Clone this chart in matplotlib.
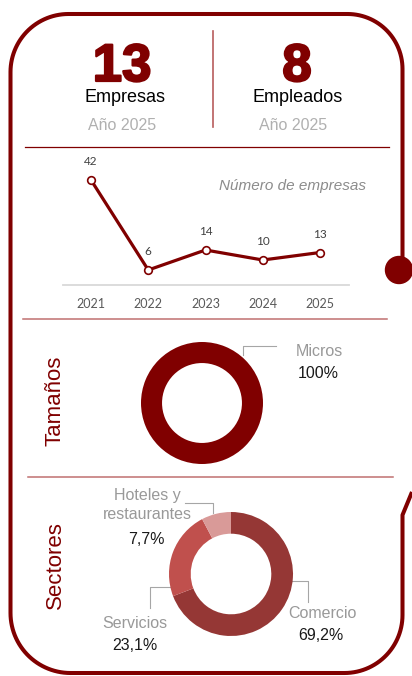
import numpy as np
import matplotlib.pyplot as plt
import matplotlib.patheffects as pe
from matplotlib.path import Path
from matplotlib.patches import PathPatch, Circle

plt.rcParams['font.family'] = ['Liberation Sans', 'DejaVu Sans']

# data
years = [2021, 2022, 2023, 2024, 2025]
n_empresas = [42, 6, 14, 10, 13]
total_empresas = 13
total_empleados = 8
anio = 2025
tam_labels = ['Micros']
tam_pct = [100.0]
sec_labels = ['Comercio', 'Servicios', 'Hoteles y\nrestaurantes']
sec_pct = [69.2, 23.1, 7.7]
sec_colors = ['#953735', '#C0504D', '#D99A98']

RED = '#800000'
LIGHT_RED = '#C07070'
GRAY = '#A6A6A6'
W, H = 412, 676

fig = plt.figure(figsize=(W / 100, H / 100), dpi=100)


def px_axes(x0, y0, x1, y1):
    return fig.add_axes([x0 / W, 1 - y1 / H, (x1 - x0) / W, (y1 - y0) / H])


bg = fig.add_axes([0, 0, 1, 1])
bg.set_xlim(0, W)
bg.set_ylim(H, 0)
bg.axis('off')


def arc(cx, cy, r, a0, a1, n=30):
    t = np.radians(np.linspace(a0, a1, n))
    return list(zip(cx + r * np.cos(t), cy - r * np.sin(t)))


# frame (pixel coords, y down)
L, T, R, B = 10.5, 14, 402.5, 673
pts = [(R, 258)]
pts += arc(R - 55, T + 55, 55, 0, 90)
pts += arc(L + 58, T + 58, 58, 90, 180)
pts += arc(L + 60, B - 60, 60, 180, 270)
pts += arc(R - 58, B - 58, 58, 270, 360)
pts += [(R, 515), (412, 492)]
bg.add_patch(PathPatch(Path(pts), fill=False, edgecolor=RED, lw=2.9,
                       capstyle='butt', joinstyle='round'))
bg.add_patch(Circle((399, 270), 13.5, color=RED))

# header
big = [pe.Stroke(linewidth=1.6, foreground=RED), pe.Normal()]
bg.text(122, 81, str(total_empresas), fontsize=38, fontweight='bold',
        color=RED, ha='center', va='baseline', path_effects=big)
bg.text(125, 102, 'Empresas', fontsize=13, ha='center', va='baseline')
bg.text(122, 130, f'Año {anio}', fontsize=11.5, color='#B0B0B0',
        ha='center', va='baseline')
bg.text(297, 81, str(total_empleados), fontsize=38, fontweight='bold',
        color=RED, ha='center', va='baseline', path_effects=big)
bg.text(298, 102, 'Empleados', fontsize=13, ha='center', va='baseline')
bg.text(293, 130, f'Año {anio}', fontsize=11.5, color='#B0B0B0',
        ha='center', va='baseline')
bg.plot([213, 213], [31, 127], color='#B85C5C', lw=1.2)

# separators
bg.plot([25, 389], [147, 147], color=RED, lw=0.9)
bg.plot([23, 387], [319, 319], color=LIGHT_RED, lw=1.1)
bg.plot([28, 393], [477, 477], color=LIGHT_RED, lw=1.1)

# line chart
ax = px_axes(63, 160, 349, 285)
ax.set_facecolor('none')
ax.plot(years, n_empresas, color=RED, lw=2.3, marker='o', ms=5.5,
        mfc='white', mec=RED, mew=1.2)
for x, y in zip(years, n_empresas):
    ax.annotate(str(y), (x, y), xytext=(0, 13), textcoords='offset points',
                ha='center', va='center', fontsize=8.5, color='#404040',
                family='Lato')
ax.set_xlim(2021 - 28 / 57.25, 2025 + 29 / 57.25)
ax.set_ylim(0, 50)
for s in ['top', 'right', 'left']:
    ax.spines[s].set_visible(False)
ax.spines['bottom'].set_color('#D9D9D9')
ax.spines['bottom'].set_linewidth(1.3)
ax.set_yticks([])
ax.set_xticks(years)
ax.tick_params(axis='x', length=0, pad=9, labelsize=9, labelcolor='#595959')
for lab in ax.get_xticklabels():
    lab.set_family('Lato')
bg.text(293, 186, 'Número de empresas', fontsize=11, style='italic',
        color='#8C8C8C', ha='center', va='center')

# Tamaños donut
bg.text(55, 401, 'Tamaños', fontsize=16, color=RED, rotation=90,
        ha='center', va='center')
ax2 = px_axes(141, 342, 263, 464)
ax2.pie(tam_pct, colors=[RED], startangle=90, counterclock=False,
        wedgeprops=dict(width=0.345, linewidth=0))
ax2.set_xlim(-1, 1)
ax2.set_ylim(-1, 1)
ax2.set_aspect('equal')
bg.plot([243, 243, 276], [355, 346, 346], color=GRAY, lw=0.8)
bg.text(319, 351, tam_labels[0], fontsize=11.5, color='#999999',
        ha='center', va='center')
bg.text(318, 374, f'{tam_pct[0]:.0f}%', fontsize=11.5, color='#1A1A1A',
        ha='center', va='center')

# Sectores donut
bg.text(55, 565, 'Sectores', fontsize=16, color=RED, rotation=90,
        ha='center', va='center')
ax3 = px_axes(169, 512, 293, 636)
ax3.pie(sec_pct, colors=sec_colors, startangle=90, counterclock=False,
        wedgeprops=dict(width=0.35, linewidth=0))
ax3.set_xlim(-1, 1)
ax3.set_ylim(-1, 1)
ax3.set_aspect('equal')


def fmt(v):
    return f'{v:.1f}'.replace('.', ',') + '%'


bg.plot([288, 308, 308], [581, 581, 602], color=GRAY, lw=0.8)
bg.text(322, 613, sec_labels[0], fontsize=11.5, color='#999999',
        ha='center', va='center')
bg.text(321, 636, fmt(sec_pct[0]), fontsize=11.5, color='#1A1A1A',
        ha='center', va='center')

bg.plot([172, 150, 150], [587, 587, 608], color=GRAY, lw=0.8)
bg.text(135, 623, sec_labels[1], fontsize=11.5, color='#999999',
        ha='center', va='center')
bg.text(135, 646, fmt(sec_pct[1]), fontsize=11.5, color='#1A1A1A',
        ha='center', va='center')

bg.plot([213, 213, 185], [513, 503, 503], color=GRAY, lw=0.8)
bg.text(147, 505, sec_labels[2], fontsize=11.5, color='#999999',
        ha='center', va='center', linespacing=1.35)
bg.text(146, 540, fmt(sec_pct[2]), fontsize=11.5, color='#1A1A1A',
        ha='center', va='center')

fig.savefig('out.png', dpi=100)
